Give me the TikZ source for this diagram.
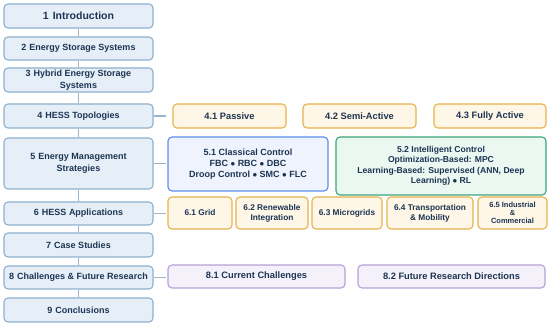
\documentclass[tikz,border=0pt]{standalone}
\usepackage{fontspec}
\setmainfont{Liberation Sans}
\definecolor{navy}{HTML}{1C3553}
\definecolor{mainfill}{HTML}{E6EFF8}
\definecolor{maindraw}{HTML}{8DB0CC}
\definecolor{linecol}{HTML}{9BB4C8}
\definecolor{orfill}{HTML}{FEF6E6}
\definecolor{ordraw}{HTML}{E8B14C}
\definecolor{bfill}{HTML}{EFF3FD}
\definecolor{bdraw}{HTML}{5C8DEE}
\definecolor{gfill}{HTML}{EBF7F1}
\definecolor{gdraw}{HTML}{3DA57B}
\definecolor{pfill}{HTML}{F4F1FA}
\definecolor{pdraw}{HTML}{B6A0D8}
\newcommand{\bx}[7]{\node[#6, minimum width={(#4-#2)*1pt}, minimum height={(#5-#3)*1pt}] (#1) at ({(#2+#4)/2},{(#3+#5)/2}) {#7};}
\begin{document}
\begin{tikzpicture}[x=1pt,y=-1pt,
  base/.style={rectangle, rounded corners=4pt, line width=1.1pt, inner sep=0pt, align=center, text=navy, font=\fontsize{9.3}{11}\selectfont\bfseries},
  mainbox/.style={base, fill=mainfill, draw=maindraw, font=\fontsize{9.0}{11.5}\selectfont\bfseries},
  orbox/.style={base, fill=orfill, draw=ordraw},
  appbox/.style={orbox, font=\fontsize{8.3}{10}\selectfont\bfseries},
  bluebox/.style={base, fill=bfill, draw=bdraw},
  greenbox/.style={base, fill=gfill, draw=gdraw},
  purbox/.style={base, fill=pfill, draw=pdraw},
  conn/.style={draw=linecol, line width=1.1pt}]
\useasboundingbox (0,0) rectangle (550,328);
% main column
\bx{s1}{4}{4}{153}{28}{mainbox, font=\fontsize{10.5}{12}\selectfont\bfseries}{1\hspace{4pt}Introduction}
\bx{s2}{4}{37}{153}{60}{mainbox}{2\hspace{3pt}Energy Storage Systems}
\bx{s3}{4}{68}{153}{92}{mainbox}{3\hspace{3pt}Hybrid Energy Storage\\Systems}
\bx{s4}{4}{104}{153}{128}{mainbox}{4\hspace{3pt}HESS Topologies}
\bx{s5}{4}{138}{153}{189}{mainbox}{5\hspace{3pt}Energy Management\\Strategies}
\bx{s6}{4}{202}{153}{225}{mainbox}{6\hspace{3pt}HESS Applications}
\bx{s7}{4}{233}{153}{257}{mainbox}{7\hspace{3pt}Case Studies}
\bx{s8}{4}{266}{153}{289}{mainbox}{8\hspace{3pt}Challenges \& Future Research}
\bx{s9}{4}{298}{153}{322}{mainbox}{9\hspace{3pt}Conclusions}
% sub boxes
\bx{t41}{173}{104}{286}{128}{orbox}{4.1 Passive}
\bx{t42}{303}{104}{416}{128}{orbox}{4.2 Semi-Active}
\bx{t43}{434}{104}{546}{128}{orbox}{4.3 Fully Active}
\bx{t51}{168}{137}{328}{191}{bluebox, font=\fontsize{9}{11}\selectfont\bfseries}{5.1 Classical Control\\FBC $\bullet$ RBC $\bullet$ DBC\\Droop Control $\bullet$ SMC $\bullet$ FLC}
\bx{t52}{336}{137}{546}{195}{greenbox, font=\fontsize{8.6}{10.5}\selectfont\bfseries}{5.2 Intelligent Control\\Optimization-Based: MPC\\Learning-Based: Supervised (ANN, Deep\\Learning) $\bullet$ RL}
\bx{t61}{168}{197}{232}{229}{appbox}{6.1 Grid}
\bx{t62}{236}{197}{308}{229}{appbox}{6.2 Renewable\\Integration}
\bx{t63}{312}{197}{382}{229}{appbox}{6.3 Microgrids}
\bx{t64}{387}{197}{473}{229}{appbox}{6.4 Transportation\\\& Mobility}
\bx{t65}{478}{197}{547}{229}{orbox, font=\fontsize{7.5}{8.3}\selectfont\bfseries}{6.5 Industrial\\\&\\Commercial}
\bx{t81}{168}{265}{345}{288}{purbox}{8.1 Current Challenges}
\bx{t82}{358}{265}{545}{288}{purbox}{8.2 Future Research Directions}
% connectors
\foreach \a/\b in {s1/s2,s2/s3,s3/s4,s4/s5,s5/s6,s6/s7,s7/s8,s8/s9}
  \draw[conn] (\a.south) -- (\b.north);
\foreach \n in {4,5,6,8} {
  \coordinate (e\n) at ([xshift=12pt]s\n.east);
  \draw[conn] (s\n.east) -- (e\n);
}
\end{tikzpicture}
\end{document}
